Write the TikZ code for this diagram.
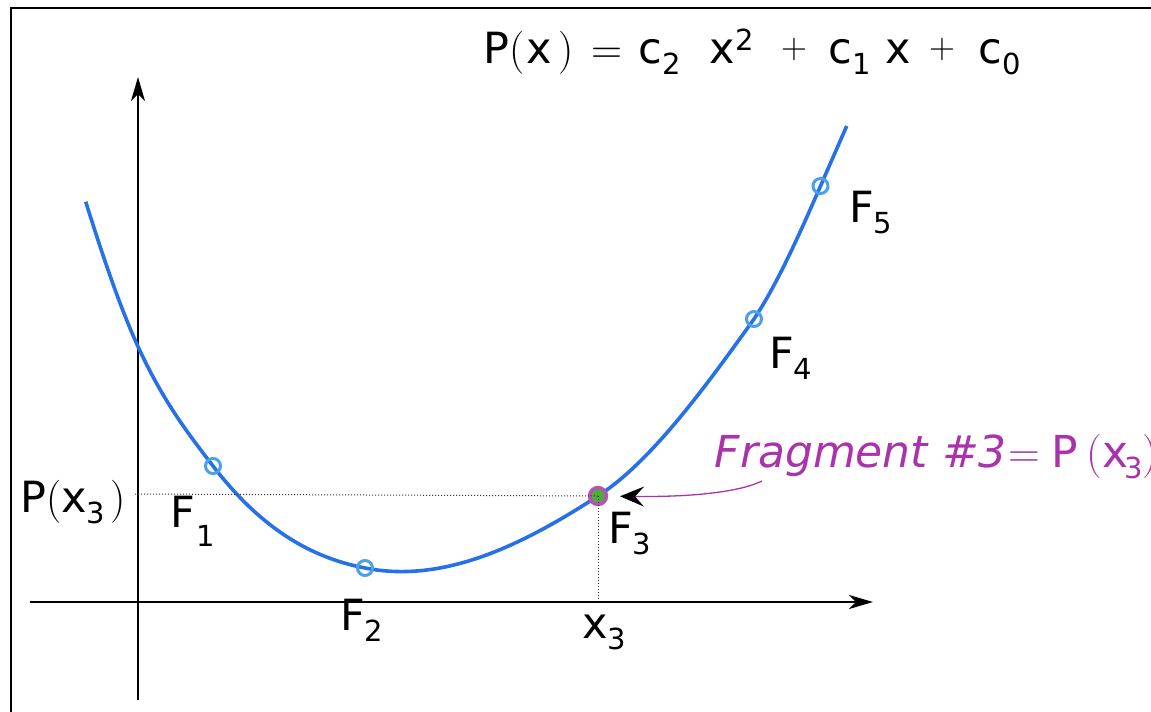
\documentclass[tikz,border=0pt]{standalone}
\usepackage{fontspec}
\usetikzlibrary{arrows.meta}
\newfontfamily\dv{DejaVu Sans}
\definecolor{curveblue}{RGB}{38,112,232}
\definecolor{ptblue}{RGB}{74,160,234}
\definecolor{fragpurple}{RGB}{170,50,170}
\definecolor{fraggreen}{RGB}{80,170,60}
\newcommand\lpar{{\rmfamily(}}
\newcommand\rpar{{\rmfamily)}}
\newcommand\eqsign{{\rmfamily=}}
\newcommand\plussign{\raisebox{5pt}{\rmfamily\fontsize{36}{36}\selectfont +}}
\newcommand\sbs[1]{\raisebox{-0.27em}{\fontsize{29}{29}\selectfont #1}}
\newcommand\sps[1]{\raisebox{0.30em}{\fontsize{29}{29}\selectfont #1}}
\newcommand\putat[2]{\makebox[0pt][l]{\hspace*{#1}#2}}
\tikzset{
  lbl/.style={inner sep=0pt, anchor=base west, font=\dv\fontsize{43}{43}\selectfont},
  axisline/.style={line width=1.8pt, -{Stealth[length=24pt,width=14pt,inset=7pt]}},
  fpoint/.style={circle, draw=ptblue, line width=3pt, minimum size=15pt, inner sep=0pt},
  guide/.style={dotted, line width=1pt, black!80},
}
\begin{document}
\begin{tikzpicture}[x=1pt,y=-1pt]
\useasboundingbox (0,0) rectangle (1151,712);
% frame
\draw[line width=2pt] (11,712) -- (11,8) -- (1151,8);
% axes
\coordinate (yb) at (138,700);
\coordinate (yt) at (138,77);
\coordinate (xl) at (30,602);
\coordinate (xr) at (873,602);
\draw[axisline] (yb) -- (yt);
\draw[axisline] (xl) -- (xr);
% guides
\coordinate (gl) at (135,494);
\coordinate (gb) at (598,600);
% curve
\draw[curveblue, line width=3.6pt]
 (85.7,201.7) .. controls (102.9,256.7) and (120.1,307.2) .. (137.3,345)
 .. controls (162.5,400.5) and (187.8,433.2) .. (213,466)
 .. controls (263.7,531.9) and (314.3,558.2) .. (365,568)
 .. controls (442.7,583.5) and (520.3,546.5) .. (598,496)
 .. controls (650,462.2) and (702,391.8) .. (754,319)
 .. controls (776.2,285.7) and (798.3,237.1) .. (820.5,186)
 .. controls (829.2,166) and (838,146) .. (846.7,126);
% points
\node[fpoint] (F1) at (213,466) {};
\node[fpoint] (F2) at (365,568) {};
\node[fpoint] (F4) at (754,319) {};
\node[fpoint] (F5) at (820.5,186) {};
\node[circle, draw=fragpurple!85, fill=fraggreen, line width=3.4pt, minimum size=17pt, inner sep=0pt] (F3) at (598,496) {};
\draw[guide] (gl) -- (F3.center);
\draw[guide] (F3.center) -- (gb);
% labels
\node[lbl] (L5) at (849,222) {F\sbs{5}};
\node[lbl] (L4) at (769,368) {F\sbs{4}};
\node[lbl] (L3) at (608,543) {F\sbs{3}};
\node[lbl] (L2) at (340,630) {F\sbs{2}};
\node[lbl] (L1) at (170,527) {F\hspace{2pt}\raisebox{-0.45em}{\fontsize{29}{29}\selectfont 1}};
\node[lbl] (X3) at (582,638) {x\sbs{3}};
\node[lbl] (PX3) at (20,512) {P\lpar x\sbs{3}\hspace{5pt}\rpar};
\node[lbl] (title) at (483,63) {\putat{0pt}{P}\putat{26pt}{\lpar}\putat{43pt}{x}\putat{74.4pt}{\rpar}%
\putat{108pt}{\eqsign}\putat{155pt}{c}\putat{178.6pt}{\sbs{2}}\putat{226pt}{x}\putat{251.5pt}{\sps{2}}%
\putat{298pt}{\plussign}\putat{345pt}{c}\putat{368.6pt}{\sbs{1}}\putat{402pt}{x}%
\putat{446pt}{\plussign}\putat{495pt}{c}\putat{518.6pt}{\sbs{0}}};
\node[lbl, text=fragpurple, font=\dv\fontsize{44}{44}\selectfont] (frag) at (714,467) {\putat{0pt}{\itshape Fragment \#3}\putat{293.6pt}{\eqsign}%
\putat{337pt}{P}\putat{372pt}{\lpar}\putat{388pt}{x}\putat{410pt}{\sbs{3}}\putat{428pt}{\rpar}};
% annotation arrow
\coordinate (fa) at (762,481);
\draw[fragpurple, line width=1.3pt, -{Stealth[length=24pt,width=20pt,inset=9pt,color=black]}, shorten >=22pt]
  (fa) .. controls (735,494) and (680,497) .. (F3.center);
\end{tikzpicture}
\end{document}
